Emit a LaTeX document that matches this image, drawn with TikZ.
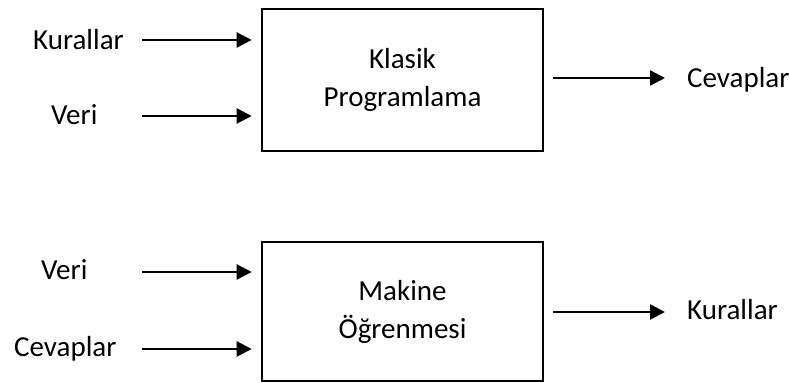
\documentclass[tikz,border=0pt]{standalone}
\usepackage{fontspec}
\setmainfont{Carlito}
\usetikzlibrary{arrows.meta}

\begin{document}
\begin{tikzpicture}[x=0.5pt,y=-0.5pt,
                every path/.style={line width=1.2pt},
                box/.style={draw,line width=1.3pt,minimum width=140.5pt,align=center,inner sep=0pt,
                            font=\fontsize{14.5}{19}\selectfont},
                lbl/.style={font=\fontsize{14.5}{17}\selectfont,inner sep=0pt,anchor=base west},
                arr/.style={-{Triangle[length=7.5pt,width=7.5pt]}}]
  \useasboundingbox (0,0) rectangle (789,383);
  % klasik programlama
  \node[box,minimum height=71pt]   (kp) at (402.5,80)  {Klasik\\Programlama};
  \node[lbl]       (kp_kural) at (32,50)  {Kurallar};
  \node[lbl]       (kp_veri)  at (50,125) {Veri};
  \node[lbl]       (kp_cevap) at (686,88) {Cevaplar};
  \coordinate      (kp_a) at (142,40);
  \coordinate      (kp_b) at (142,116);
  \coordinate      (kp_c) at (665,78);
  % makine ogrenmesi
  \node[box,minimum height=69.5pt] (mo) at (402.5,311.5) {Makine\\Öğrenmesi};
  \node[lbl]       (mo_veri)  at (40,280) {Veri};
  \node[lbl]       (mo_cevap) at (13,357) {Cevaplar};
  \node[lbl]       (mo_kural) at (686,320) {Kurallar};
  \coordinate      (mo_a) at (142,272);
  \coordinate      (mo_b) at (142,349);
  \coordinate      (mo_c) at (665,312);
  \draw[arr,shorten >=4.5pt] (kp_a) -- (kp_a -| kp.west);
  \draw[arr,shorten >=4.5pt] (kp_b) -- (kp_b -| kp.west);
  \draw[arr,shorten <=4.5pt] (kp_c -| kp.east) -- (kp_c);
  \draw[arr,shorten >=4.5pt] (mo_a) -- (mo_a -| mo.west);
  \draw[arr,shorten >=4.5pt] (mo_b) -- (mo_b -| mo.west);
  \draw[arr,shorten <=4.5pt] (mo_c -| mo.east) -- (mo_c);
\end{tikzpicture}
\end{document}
